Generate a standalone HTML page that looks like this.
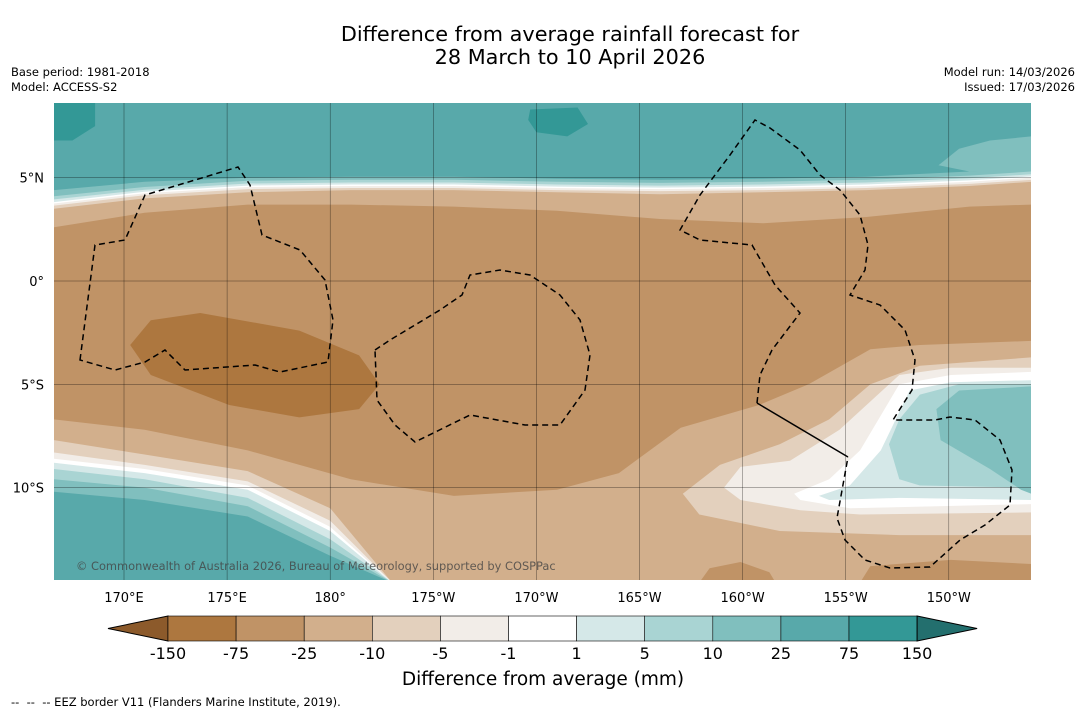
<!DOCTYPE html>
<html><head><meta charset="utf-8">
<style>
body{margin:0;background:#fff;width:1085px;height:713px;overflow:hidden;font-family:"DejaVu Sans","Liberation Sans",sans-serif;}
svg text{font-family:"DejaVu Sans","Liberation Sans",sans-serif;}
</style></head>
<body>
<svg id="chart" width="1085" height="713" xmlns="http://www.w3.org/2000/svg">
<rect width="1085" height="713" fill="#fff"/>
<text x="570" y="41" font-size="20.8" text-anchor="middle">Difference from average rainfall forecast for</text>
<text x="570" y="64" font-size="20.8" text-anchor="middle">28 March to 10 April 2026</text>
<text x="11" y="76" font-size="11.5">Base period: 1981-2018</text>
<text x="11" y="91" font-size="11.5">Model: ACCESS-S2</text>
<text x="1075" y="76" font-size="11.5" text-anchor="end">Model run: 14/03/2026</text>
<text x="1075" y="91" font-size="11.5" text-anchor="end">Issued: 17/03/2026</text>
<defs><clipPath id="mapclip"><rect x="54" y="103" width="977" height="477"/></clipPath></defs>
<g id="map" clip-path="url(#mapclip)"></g>
<g id="grid"></g>
<g id="eez" fill="none" stroke="#000" stroke-width="1.5">
<path stroke-dasharray="6,4" d="M80,360 L95,245 L125,240 L145,195 L195,180 L238,167 L250,185 L262,235 L300,250 L325,280 L333,320 L328,362 L280,372 L255,365 L185,370 L165,350 L145,362 L115,370 Z"/>
<path stroke-dasharray="6,4" d="M375,350 L390,340 L440,310 L462,295 L470,275 L500,270 L530,275 L560,295 L580,320 L590,355 L585,390 L560,425 L525,425 L470,415 L415,442 L395,425 L377,400 Z"/>
<path stroke-dasharray="6,4" d="M757,403 L760,375 L772,350 L800,313 L775,285 L752,245 L700,240 L680,230 L700,195 L730,155 L755,120 L770,128 L800,150 L820,175 L840,190 L860,215 L868,245 L865,270 L850,295 L880,305 L905,330 L915,360 L912,390 L893,420 L935,420 L950,417 L975,420 L1000,440 L1012,470 L1010,505 L985,525 L960,540 L930,567 L890,568 L865,560 L845,540 L837,518 L848,457"/>
<path d="M757,403 L848,457"/>
</g>
<text x="76" y="570" font-size="11.4" fill="#444" opacity="0.8">© Commonwealth of Australia 2026, Bureau of Meteorology, supported by COSPPac</text>
<g id="axes"></g>
<g id="cbar"></g>
<text x="543" y="685" font-size="18.5" text-anchor="middle">Difference from average (mm)</text>
<text x="11" y="706" font-size="11.5" xml:space="preserve">--  --  -- EEZ border V11 (Flanders Marine Institute, 2019).</text>
</svg>
<script>
// ---- data ----
const levels = [-150,-75,-25,-10,-5,-1,1,5,10,25,75,150];
const levelColors = ['#8c5a2b','#ad773f','#c09366','#d2af8c','#e3d0bd','#f2ede8','#ffffff','#d5e8e8','#a9d4d3','#80bfbe','#58a9aa','#339896','#236f6e'];
const lonTicks = [170,175,180,185,190,195,200,205,210];
const lonTickLabels = ['170°E','175°E','180°','175°W','170°W','165°W','160°W','155°W','150°W'];
const latTicks = [5,0,-5,-10];
const latTickLabels = ['5°N','0°','5°S','10°S'];
const topLons = [166.6,171,176,181,186,191,196,201,206,211,214];
const topBrownEdge = [2.6,3.3,3.7,3.7,3.6,3.4,3.0,2.8,3.1,3.6,3.7];
const topEdgeM10 = [3.5,4.0,4.3,4.4,4.4,4.3,4.2,4.3,4.4,4.6,4.8];
const topEdgeM5 = [3.65,4.15,4.45,4.5,4.5,4.4,4.35,4.4,4.5,4.7,4.9];
const topEdgeM1 = [3.75,4.25,4.55,4.6,4.6,4.5,4.45,4.5,4.6,4.8,5.0];
const topEdgeP1 = [3.82,4.32,4.62,4.67,4.67,4.57,4.52,4.57,4.67,4.87,5.07];
const topEdgeP5 = [3.95,4.42,4.72,4.77,4.77,4.67,4.62,4.67,4.77,4.97,5.17];
const topEdgeP10 = [4.1,4.55,4.85,4.9,4.9,4.8,4.75,4.8,4.9,5.1,5.3];
const topEdgeP25 = [4.4,4.8,5.0,5.05,5.05,4.95,4.9,4.95,5.05,5.3,5.5];
const brownLowLons = [166.6,171,176,181,186,191,194,197,200.8,203.2,206.2,208.6,214];
const brownLowLats = [-6.7,-7.2,-8.2,-9.6,-10.4,-10.1,-9.3,-7.1,-6.0,-5.0,-3.3,-3.1,-2.9];
const swLons = [166.6,171,176,180,183];
const swEdgeM10 = [-7.7,-8.4,-9.2,-11.0,-14.6];
const swEdgeM5 = [-8.3,-8.9,-9.7,-11.6,-14.6];
const swEdgeM1 = [-8.6,-9.1,-9.9,-11.9,-14.6];
const swEdgeP1 = [-8.8,-9.3,-10.1,-12.1,-14.6];
const swEdgeP5 = [-9.1,-9.6,-10.5,-12.5,-14.6];
const swEdgeP10 = [-9.6,-10.0,-10.9,-12.9,-14.6];
const swEdgeP25 = [-10.2,-10.6,-11.4,-13.3,-14.6];
const blobDarkBrown = [[170.3,-3.1],[171.3,-1.9],[173.7,-1.55],[178.5,-2.4],[181.4,-3.6],[182.4,-5.0],[181.4,-6.2],[178.5,-6.6],[175.1,-6.0],[171.3,-4.55]];
const blobEastM10 = [[197.1,-10.3],[198.9,-8.9],[201.8,-7.9],[204.2,-6.7],[206.2,-5.0],[208.6,-4.1],[214,-3.7],[214,-12.3],[207.6,-12.3],[201.8,-12.1],[197.9,-11.3]];
const blobEastM5 = [[199.1,-10.0],[199.9,-9.0],[202.3,-8.7],[204.7,-7.2],[207.6,-4.55],[210.1,-4.2],[214,-4.2],[214,-11.2],[205.7,-11.3],[202.8,-11.1],[199.9,-10.6]];
const blobEastM1 = [[202.5,-10.3],[204.2,-9.6],[205.7,-8.2],[207.6,-5.0],[210.1,-4.55],[214,-4.4],[214,-10.8],[205.2,-11.0],[202.8,-10.6]];
const blobEastP1 = [[203.7,-10.4],[205.2,-9.9],[206.7,-8.2],[208.1,-5.3],[210.1,-4.9],[214,-4.8],[214,-10.6],[207.6,-10.5],[204.2,-10.6]];
const blobEastP5 = [[214,-5.0],[210.5,-5.0],[208.6,-5.5],[207.6,-6.7],[207.1,-7.9],[207.6,-9.6],[208.6,-9.9],[214,-10.0]];
const blobEastP10 = [[214,-5.1],[210.5,-5.3],[209.4,-6.2],[209.6,-7.7],[212.0,-9.1],[213.5,-10.1],[214,-10.3]];
const blobNWTeal = [[166.6,8.7],[168.6,8.7],[168.6,7.5],[167.5,6.8],[166.6,6.8]];
const blobNTeal = [[189.7,8.3],[192,8.4],[192.5,7.6],[191.5,7.0],[190,7.2],[189.6,7.8]];
const blobNELight = [[209.5,5.6],[210.5,6.4],[212,6.8],[214,7.0],[214,5.4],[211,5.3]];
const blobSBrown1 = [[197.9,-14.6],[198.4,-13.9],[199.9,-13.6],[201.3,-14.1],[201.6,-14.6]];
const blobSBrown2 = [[205.7,-14.6],[206.2,-13.8],[210.1,-13.5],[214,-13.7],[214,-14.6]];

const X = lon => 124 + (lon-170)*20.62;
const Y = lat => 281 - lat*20.66;
const NS='http://www.w3.org/2000/svg';
const map=document.getElementById('map');
function poly(pts,col,name){
  const p=document.createElementNS(NS,'polygon');
  p.setAttribute('points',pts.map(q=>X(q[0]).toFixed(1)+','+Y(q[1]).toFixed(1)).join(' '));
  p.setAttribute('fill',col);
  
  
  map.appendChild(p);
}
function northOf(lons,lats){const pts=[[lons[0],9.5]];lons.forEach((l,i)=>pts.push([l,lats[i]]));pts.push([lons[lons.length-1],9.5]);return pts;}
function southOf(lons,lats){const pts=[[lons[0],-15]];lons.forEach((l,i)=>pts.push([l,lats[i]]));pts.push([lons[lons.length-1],-15]);return pts;}
const C=levelColors;
poly([[166,9.5],[215,9.5],[215,-15],[166,-15]],C[3],'band-minus25-to-minus10');
{const pts=[];topLons.forEach((l,i)=>pts.push([l,topBrownEdge[i]]));
 for(let i=brownLowLons.length-1;i>=0;i--)pts.push([brownLowLons[i],brownLowLats[i]]);
 poly(pts,C[2],'band-minus75-to-minus25');}
poly(northOf(topLons,topEdgeM10),C[4],'north-band-minus10');
poly(northOf(topLons,topEdgeM5),C[5],'north-band-minus5');
poly(northOf(topLons,topEdgeM1),C[6],'north-band-near-zero');
poly(northOf(topLons,topEdgeP1),C[7],'north-band-plus1');
poly(northOf(topLons,topEdgeP5),C[8],'north-band-plus5');
poly(northOf(topLons,topEdgeP10),C[9],'north-band-plus10');
poly(northOf(topLons,topEdgeP25),C[10],'north-band-plus25');
poly(blobNELight,C[9],'northeast-band-plus10');
poly(blobNWTeal,C[11],'northwest-band-plus75');
poly(blobNTeal,C[11],'north-blob-plus75');
poly(southOf(swLons,swEdgeM10),C[4],'southwest-band-minus10');
poly(southOf(swLons,swEdgeM5),C[5],'southwest-band-minus5');
poly(southOf(swLons,swEdgeM1),C[6],'southwest-band-near-zero');
poly(southOf(swLons,swEdgeP1),C[7],'southwest-band-plus1');
poly(southOf(swLons,swEdgeP5),C[8],'southwest-band-plus5');
poly(southOf(swLons,swEdgeP10),C[9],'southwest-band-plus10');
poly(southOf(swLons,swEdgeP25),C[10],'southwest-band-plus25');
poly(blobDarkBrown,C[1],'blob-minus150-to-minus75');
poly(blobEastM10,C[4],'east-blob-minus10');
poly(blobEastM5,C[5],'east-blob-minus5');
poly(blobEastM1,C[6],'east-blob-near-zero');
poly(blobEastP1,C[7],'east-blob-plus1');
poly(blobEastP5,C[8],'east-blob-plus5');
poly(blobEastP10,C[9],'east-blob-plus10');
poly(blobSBrown1,C[2],'south-blob-brown-1');
poly(blobSBrown2,C[2],'south-blob-brown-2');

const grid=document.getElementById('grid'), axes=document.getElementById('axes');
lonTicks.forEach((l,i)=>{
  const ln=document.createElementNS(NS,'line');
  ln.setAttribute('x1',X(l));ln.setAttribute('x2',X(l));ln.setAttribute('y1',103);ln.setAttribute('y2',580);
  ln.setAttribute('stroke','#000');ln.setAttribute('stroke-width','0.5');ln.setAttribute('stroke-opacity','0.6');
  
  
  grid.appendChild(ln);
  const t=document.createElementNS(NS,'text');
  t.setAttribute('x',X(l));t.setAttribute('y',602);t.setAttribute('font-size','13');t.setAttribute('text-anchor','middle');
  t.textContent=lonTickLabels[i];
  
  
  axes.appendChild(t);
});
latTicks.forEach((l,i)=>{
  const ln=document.createElementNS(NS,'line');
  ln.setAttribute('x1',54);ln.setAttribute('x2',1031);ln.setAttribute('y1',Y(l));ln.setAttribute('y2',Y(l));
  ln.setAttribute('stroke','#000');ln.setAttribute('stroke-width','0.5');ln.setAttribute('stroke-opacity','0.6');
  
  
  grid.appendChild(ln);
  const t=document.createElementNS(NS,'text');
  t.setAttribute('x',44);t.setAttribute('y',Y(l)+5);t.setAttribute('font-size','13');t.setAttribute('text-anchor','end');
  t.textContent=latTickLabels[i];
  
  
  axes.appendChild(t);
});

const cbar=document.getElementById('cbar');
const cbX0=168, cbW=68.1, cbY=616, cbH=25;
function el(tag,attrs){const e=document.createElementNS(NS,tag);for(const k in attrs)e.setAttribute(k,attrs[k]);cbar.appendChild(e);return e;}
const lt=el('polygon',{points:`108,${cbY+cbH/2} ${cbX0},${cbY} ${cbX0},${cbY+cbH}`,fill:C[0],stroke:'#000','stroke-width':1});


for(let i=0;i<levels.length-1;i++){
  const r=el('rect',{x:cbX0+i*cbW,y:cbY,width:cbW,height:cbH,fill:C[i+1],stroke:'#000','stroke-width':0.6});
  
  
}
const xe=cbX0+(levels.length-1)*cbW;
const rt=el('polygon',{points:`${xe},${cbY} ${xe+60},${cbY+cbH/2} ${xe},${cbY+cbH}`,fill:C[12],stroke:'#000','stroke-width':1});


levels.forEach((v,i)=>{
  const t=el('text',{x:cbX0+i*cbW,y:659,'font-size':16,'text-anchor':'middle'});
  t.textContent=String(v);
  
  
});
</script>
</body></html>
